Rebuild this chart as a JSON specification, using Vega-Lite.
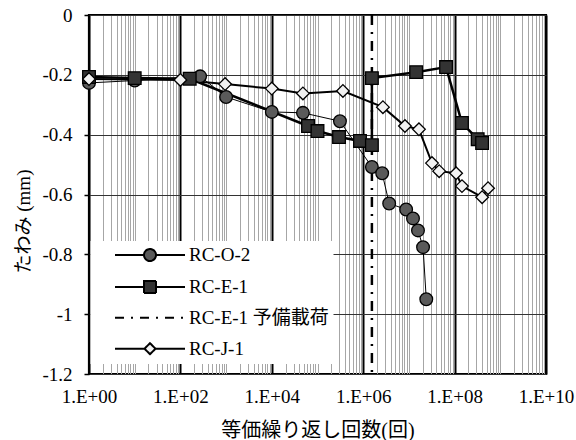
{
  "$schema": "https://vega.github.io/schema/vega-lite/v6.json",
  "width": 457,
  "height": 359,
  "autosize": {"type": "none"},
  "padding": {"left": 89, "top": 15, "right": 30, "bottom": 66},
  "background": "white",
  "view": {"stroke": "black", "strokeWidth": 2.2},
  "data": {
    "values": [
      {"s": "RC-O-2", "i": 1, "n": 1, "d": -0.227},
      {"s": "RC-O-2", "i": 2, "n": 10, "d": -0.219},
      {"s": "RC-O-2", "i": 3, "n": 270, "d": -0.205},
      {"s": "RC-O-2", "i": 4, "n": 1000, "d": -0.274},
      {"s": "RC-O-2", "i": 5, "n": 10000, "d": -0.324},
      {"s": "RC-O-2", "i": 6, "n": 48000, "d": -0.327},
      {"s": "RC-O-2", "i": 7, "n": 310000, "d": -0.355},
      {"s": "RC-O-2", "i": 8, "n": 1550000, "d": -0.508},
      {"s": "RC-O-2", "i": 9, "n": 2600000, "d": -0.529},
      {"s": "RC-O-2", "i": 10, "n": 3700000, "d": -0.63},
      {"s": "RC-O-2", "i": 11, "n": 8700000, "d": -0.65},
      {"s": "RC-O-2", "i": 12, "n": 12300000, "d": -0.68},
      {"s": "RC-O-2", "i": 13, "n": 15800000, "d": -0.72},
      {"s": "RC-O-2", "i": 14, "n": 20400000, "d": -0.776},
      {"s": "RC-O-2", "i": 15, "n": 24000000, "d": -0.95},
      {"s": "RC-E-1", "i": 1, "n": 1, "d": -0.207},
      {"s": "RC-E-1", "i": 2, "n": 10, "d": -0.211},
      {"s": "RC-E-1", "i": 3, "n": 160, "d": -0.213},
      {"s": "RC-E-1", "i": 4, "n": 62000, "d": -0.371},
      {"s": "RC-E-1", "i": 5, "n": 100000, "d": -0.388},
      {"s": "RC-E-1", "i": 6, "n": 296000, "d": -0.408},
      {"s": "RC-E-1", "i": 7, "n": 850000, "d": -0.421},
      {"s": "RC-E-1", "i": 8, "n": 1550000, "d": -0.435},
      {"s": "RC-E-1", "i": 9, "n": 1550000, "d": -0.211},
      {"s": "RC-E-1", "i": 10, "n": 14400000, "d": -0.191},
      {"s": "RC-E-1", "i": 11, "n": 65000000, "d": -0.174},
      {"s": "RC-E-1", "i": 12, "n": 145000000, "d": -0.361},
      {"s": "RC-E-1", "i": 13, "n": 320000000, "d": -0.415},
      {"s": "RC-E-1", "i": 14, "n": 400000000, "d": -0.428},
      {"s": "RC-E-1 予備載荷", "i": 1, "n": 1550000, "d": 0},
      {"s": "RC-E-1 予備載荷", "i": 2, "n": 1550000, "d": -1.2},
      {"s": "RC-J-1", "i": 1, "n": 1, "d": -0.214},
      {"s": "RC-J-1", "i": 2, "n": 100, "d": -0.217},
      {"s": "RC-J-1", "i": 3, "n": 950, "d": -0.231},
      {"s": "RC-J-1", "i": 4, "n": 10000, "d": -0.246},
      {"s": "RC-J-1", "i": 5, "n": 48000, "d": -0.262},
      {"s": "RC-J-1", "i": 6, "n": 360000, "d": -0.254},
      {"s": "RC-J-1", "i": 7, "n": 2700000, "d": -0.308},
      {"s": "RC-J-1", "i": 8, "n": 8200000, "d": -0.371},
      {"s": "RC-J-1", "i": 9, "n": 16600000, "d": -0.382},
      {"s": "RC-J-1", "i": 10, "n": 32000000, "d": -0.495},
      {"s": "RC-J-1", "i": 11, "n": 46000000, "d": -0.522},
      {"s": "RC-J-1", "i": 12, "n": 108000000, "d": -0.529},
      {"s": "RC-J-1", "i": 13, "n": 145000000, "d": -0.572},
      {"s": "RC-J-1", "i": 14, "n": 400000000, "d": -0.609},
      {"s": "RC-J-1", "i": 15, "n": 540000000, "d": -0.579}
    ]
  },
  "encoding": {
    "x": {
      "field": "n", "type": "quantitative",
      "scale": {"type": "log", "domain": [1, 10000000000], "nice": false},
      "axis": {
        "values": [1,2,3,4,5,6,7,8,9,10,20,30,40,50,60,70,80,90,100,200,300,400,500,600,700,800,900,1000,2000,3000,4000,5000,6000,7000,8000,9000,10000,20000,30000,40000,50000,60000,70000,80000,90000,100000,200000,300000,400000,500000,600000,700000,800000,900000,1000000,2000000,3000000,4000000,5000000,6000000,7000000,8000000,9000000,10000000,20000000,30000000,40000000,50000000,60000000,70000000,80000000,90000000,100000000,200000000,300000000,400000000,500000000,600000000,700000000,800000000,900000000,1000000000,2000000000,3000000000,4000000000,5000000000,6000000000,7000000000,8000000000,9000000000,10000000000],
        "grid": true,
        "gridColor": {"condition": {"test": "indexof([1,100,10000,1000000,100000000,10000000000], datum.value) >= 0", "value": "#000000"}, "value": "#a6a6a6"},
        "gridWidth": {"condition": {"test": "indexof([1,100,10000,1000000,100000000,10000000000], datum.value) >= 0", "value": 2}, "value": 1},
        "gridOpacity": 1,
        "domain": false,
        "ticks": false,
        "labelExpr": "indexof([1,100,10000,1000000,100000000,10000000000], datum.value) >= 0 ? '1.E+' + (datum.value < 1000000000 ? '0' : '') + round(log(datum.value) / LN10) : ''",
        "labelOverlap": false,
        "labelFlush": false,
        "labelBound": false,
        "labelFont": "Liberation Serif",
        "labelFontSize": 19,
        "labelColor": "black",
        "labelPadding": 13,
        "title": "等価繰り返し回数(回)",
        "titleFont": "Liberation Serif, Noto Sans CJK JP",
        "titleFontSize": 20,
        "titleFontWeight": "normal",
        "titleColor": "black",
        "titleBaseline": "middle",
        "titleY": 56
      }
    },
    "y": {
      "field": "d", "type": "quantitative",
      "scale": {"domain": [-1.2, 0], "nice": false, "zero": false},
      "axis": {
        "values": [0, -0.2, -0.4, -0.6, -0.8, -1, -1.2],
        "grid": true,
        "gridColor": "#333333",
        "gridWidth": 1,
        "gridOpacity": 1,
        "domain": false,
        "ticks": true,
        "tickSize": 5,
        "tickColor": "black",
        "tickWidth": 1.5,
        "labelExpr": "'' + datum.value",
        "labelFont": "Liberation Serif",
        "labelFontSize": 19,
        "labelColor": "black",
        "labelPadding": 12,
        "title": "たわみ (mm)",
        "titleFont": "Liberation Serif, Noto Sans CJK JP",
        "titleFontSize": 19,
        "titleFontWeight": "normal",
        "titleColor": "black",
        "titleBaseline": "middle",
        "titleAlign": "center",
        "titleAngle": -90,
        "titleX": -66,
        "titleY": 206
      }
    }
  },
  "layer": [
    {
      "transform": [{"filter": "datum.s == 'RC-O-2'"}],
      "mark": {"type": "line", "color": "black", "strokeWidth": 1},
      "encoding": {"order": {"field": "i", "type": "quantitative"}}
    },
    {
      "transform": [{"filter": "datum.s == 'RC-E-1'"}],
      "mark": {"type": "line", "color": "black", "strokeWidth": 2.5},
      "encoding": {"order": {"field": "i", "type": "quantitative"}}
    },
    {
      "transform": [{"filter": "datum.s == 'RC-E-1 予備載荷'"}],
      "mark": {"type": "line", "color": "black", "strokeWidth": 2.5, "strokeDash": [10, 7, 2, 7]},
      "encoding": {"order": {"field": "i", "type": "quantitative"}}
    },
    {
      "transform": [{"filter": "datum.s == 'RC-J-1'"}],
      "mark": {"type": "line", "color": "black", "strokeWidth": 2},
      "encoding": {"order": {"field": "i", "type": "quantitative"}}
    },
    {
      "transform": [{"filter": "datum.s != 'RC-E-1 予備載荷'"}],
      "mark": {"type": "point", "filled": true, "stroke": "black", "strokeWidth": 1.3, "size": 160, "opacity": 1},
      "encoding": {
        "shape": {
          "field": "s", "type": "nominal",
          "scale": {"domain": ["RC-O-2", "RC-E-1", "RC-J-1"], "range": ["circle", "square", "diamond"]},
          "legend": null
        },
        "fill": {
          "field": "s", "type": "nominal",
          "scale": {"domain": ["RC-O-2", "RC-E-1", "RC-J-1"], "range": ["#5a5a5a", "#333333", "#f2f2f2"]},
          "legend": null
        }
      }
    },
    {
      "mark": {"type": "point", "filled": true, "stroke": "black", "strokeWidth": 2, "size": 100, "opacity": 0},
      "encoding": {
        "shape": {
          "field": "s", "type": "nominal",
          "scale": {"domain": ["RC-O-2", "RC-E-1", "RC-E-1 予備載荷", "RC-J-1"], "range": ["M-7,0H-1.2A1.2,1.2 0 1,1 1.2,0A1.2,1.2 0 1,1 -1.2,0M1.2,0H7", "M-7,0H-1.2M1.2,0H7M-1.2,-1.2H1.2V1.2H-1.2Z", "M-7,0H7", "M-7,0H-1.1M1.1,0H7M-1.1,0L0,-1.1L1.1,0L0,1.1Z"]},
          "legend": {
            "title": null,
            "orient": "none",
            "legendX": 1.5,
            "legendY": 226,
            "fillColor": "white",
            "strokeColor": null,
            "padding": 4.5,
            "rowPadding": 10.9,
            "symbolSize": 100,
            "symbolOffset": 45.5,
            "labelOffset": 29.5,
            "symbolOpacity": 1,
            "symbolStrokeWidth": 2,
            "labelFont": "Liberation Serif, Noto Sans CJK JP",
            "labelFontSize": 19,
            "labelColor": "black",
            "labelBaseline": "middle",
            "labelLimit": 400,
            "labelExpr": "datum.label + '\u00a0\u00a0\u00a0'"
          }
        },
        "fill": {
          "field": "s", "type": "nominal",
          "scale": {"domain": ["RC-O-2", "RC-E-1", "RC-E-1 予備載荷", "RC-J-1"], "range": ["#5a5a5a", "#333333", "transparent", "#f2f2f2"]}
        },
        "strokeDash": {
          "field": "s", "type": "nominal",
          "scale": {"domain": ["RC-O-2", "RC-E-1", "RC-E-1 予備載荷", "RC-J-1"], "range": [[1, 0], [1, 0], [9, 7, 2, 7], [1, 0]]}
        }
      }
    }
  ],
  "resolve": {"scale": {"shape": "independent", "fill": "independent", "strokeDash": "independent"}}
}
